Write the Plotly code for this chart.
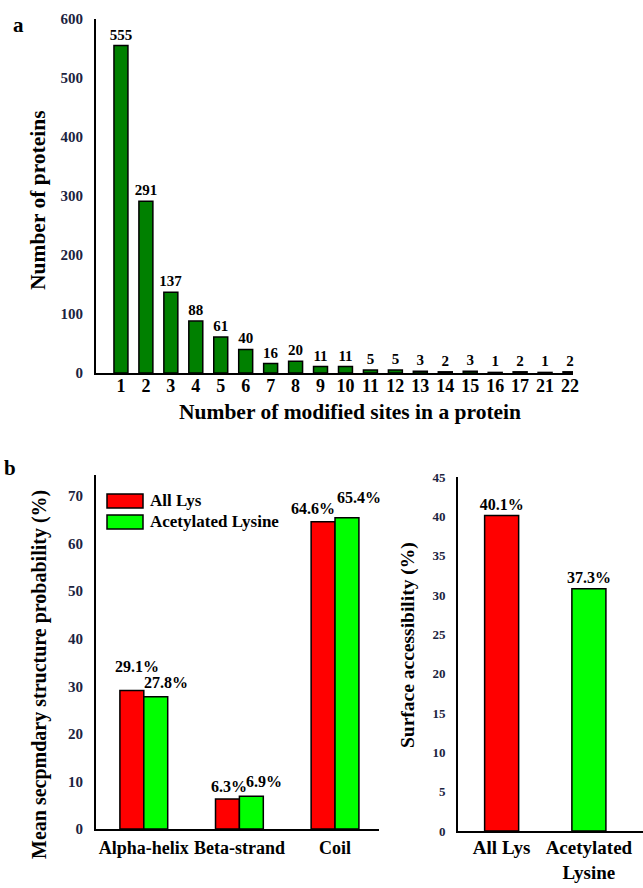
import plotly.graph_objects as go

# ---------------- data ----------------
sites = ["1", "2", "3", "4", "5", "6", "7", "8", "9", "10", "11", "12", "13",
         "14", "15", "16", "17", "21", "22"]
protein_counts = [555, 291, 137, 88, 61, 40, 16, 20, 11, 11, 5, 5, 3, 2, 3, 1, 2, 1, 2]

structures = ["Alpha-helix", "Beta-strand", "Coil"]
all_lys_struct = [29.1, 6.3, 64.6]
acetyl_struct = [27.8, 6.9, 65.4]

access_cats = ["All Lys", "Acetylated<br>Lysine"]
access_bar_values = [40.1, 30.8]          # bar heights as drawn in the figure
access_labels = ["40.1%", "37.3%"]        # labels as printed in the figure

W, H = 643, 888
FONT = "Liberation Serif"
TICKCOL = "#1c2340"


def px(x):
    return x / W


def py(y):
    return 1 - y / H


fig = go.Figure()

# ---- panel a ----
fig.add_trace(go.Bar(
    x=sites, y=protein_counts, xaxis="x", yaxis="y",
    marker=dict(color="#008000", line=dict(color="black", width=1.5)),
    width=0.56,
    text=[str(v) for v in protein_counts], textposition="outside",
    constraintext="none",
    textfont=dict(family=FONT, size=15, color="black", weight="bold"),
    cliponaxis=False, showlegend=False,
))

# ---- panel b left ----
fig.add_trace(go.Bar(
    x=structures, y=all_lys_struct, xaxis="x2", yaxis="y2", name="All Lys",
    marker=dict(color="#ff0000", line=dict(color="black", width=1.5)),
    showlegend=False, offsetgroup="a",
))
fig.add_trace(go.Bar(
    x=structures, y=acetyl_struct, xaxis="x2", yaxis="y2", name="Acetylated Lysine",
    marker=dict(color="#00ff00", line=dict(color="black", width=1.5)),
    showlegend=False, offsetgroup="b",
))

# ---- panel b right ----
fig.add_trace(go.Bar(
    x=access_cats, y=access_bar_values, xaxis="x3", yaxis="y3",
    marker=dict(color=["#ff0000", "#00ff00"], line=dict(color="black", width=1.5)),
    width=0.39,
    text=access_labels, textposition="outside", constraintext="none",
    textfont=dict(family=FONT, size=16, color="black", weight="bold"),
    cliponaxis=False, showlegend=False,
))

axis_common = dict(showline=True, linecolor="black", linewidth=2, showgrid=False,
                   zeroline=False, ticks="outside", ticklen=0, automargin=False,
                   tickangle=0)

tickf_y = dict(family=FONT, size=15, color=TICKCOL, weight="bold")
tickf_x = dict(family=FONT, size=19, color="black", weight="bold")

fig.update_layout(
    width=W, height=H, margin=dict(l=0, r=0, t=0, b=0, autoexpand=False),
    paper_bgcolor="white", plot_bgcolor="white",
    barmode="group", bargap=0.5, bargroupgap=0,
    font=dict(family=FONT),
    xaxis=dict(axis_common, domain=[px(96), px(573)], anchor="y", type="category",
               range=[-1, 18.12], tickfont=dict(tickf_x, size=18),
               ticklabelstandoff=-5),
    yaxis=dict(axis_common, domain=[py(373), py(19)], anchor="x", range=[0, 600],
               dtick=100, tickfont=tickf_y, ticklabelstandoff=8),
    xaxis2=dict(axis_common, domain=[px(96), px(379)], anchor="y2", type="category",
                range=[-0.5, 2.46], tickfont=dict(tickf_x, size=18),
                ticklabelstandoff=1),
    yaxis2=dict(axis_common, domain=[py(829), py(475)], anchor="x2", range=[0, 74.4],
                dtick=10, tickfont=tickf_y, ticklabelstandoff=8),
    xaxis3=dict(axis_common, domain=[px(458), 1.0], anchor="y3", type="category",
                range=[-0.5, 1.62], tickfont=tickf_x, ticklabelstandoff=-2),
    yaxis3=dict(axis_common, domain=[py(831), py(477)], anchor="x3", range=[0, 45],
                dtick=5, tickfont=dict(tickf_y, size=13), ticklabelstandoff=8),
)

ann = []
lab_font = dict(family=FONT, size=16, color="black", weight="bold")
# value labels, panel b left
shifts_red = [(5, 24), (2, 13), (-10, 13)]
shifts_green = [(10, 14), (13, 15), (12, 20)]
for i, s in enumerate(structures):
    ann.append(dict(x=i - 0.125, y=all_lys_struct[i], xref="x2", yref="y2",
                    text=f"{all_lys_struct[i]}%", showarrow=False, font=lab_font,
                    xanchor="center", yanchor="middle",
                    xshift=shifts_red[i][0], yshift=shifts_red[i][1]))
    ann.append(dict(x=i + 0.125, y=acetyl_struct[i], xref="x2", yref="y2",
                    text=f"{acetyl_struct[i]}%", showarrow=False, font=lab_font,
                    xanchor="center", yanchor="middle",
                    xshift=shifts_green[i][0], yshift=shifts_green[i][1]))

title_font = dict(family=FONT, size=20, color="black", weight="bold")
paper_txt = [
    ("a", 18, 25, 0, 21),
    ("b", 10, 468, 0, 21),
    ("Number of proteins", 38, 200, -90, 21.5),
    ("Number of modified sites in a protein", 350, 412, 0, 21.5),
    ("Mean secpmdary structure probability (%)", 39, 675, -90, 20),
    ("Surface accessibility (%)", 408, 645, -90, 19.5),
]
for t, x, y, ang, sz in paper_txt:
    ann.append(dict(x=px(x), y=py(y), xref="paper", yref="paper", text=t,
                    textangle=ang, showarrow=False, xanchor="center", yanchor="middle",
                    font=dict(title_font, size=sz)))

for t, y in [("All Lys", 501), ("Acetylated Lysine", 521)]:
    ann.append(dict(x=px(148), y=py(y), xref="paper", yref="paper", text=t,
                    xanchor="left", yanchor="middle", showarrow=False,
                    font=dict(family=FONT, size=17, color="black", weight="bold")))
fig.update_layout(annotations=ann)

fig.update_layout(shapes=[
    dict(type="rect", xref="paper", yref="paper", x0=px(107), x1=px(143),
         y0=py(508), y1=py(494), fillcolor="#ff0000", line=dict(color="black", width=1.5)),
    dict(type="rect", xref="paper", yref="paper", x0=px(107), x1=px(143),
         y0=py(529), y1=py(515), fillcolor="#00ff00", line=dict(color="black", width=1.5)),
])

fig.write_html("out.html")
